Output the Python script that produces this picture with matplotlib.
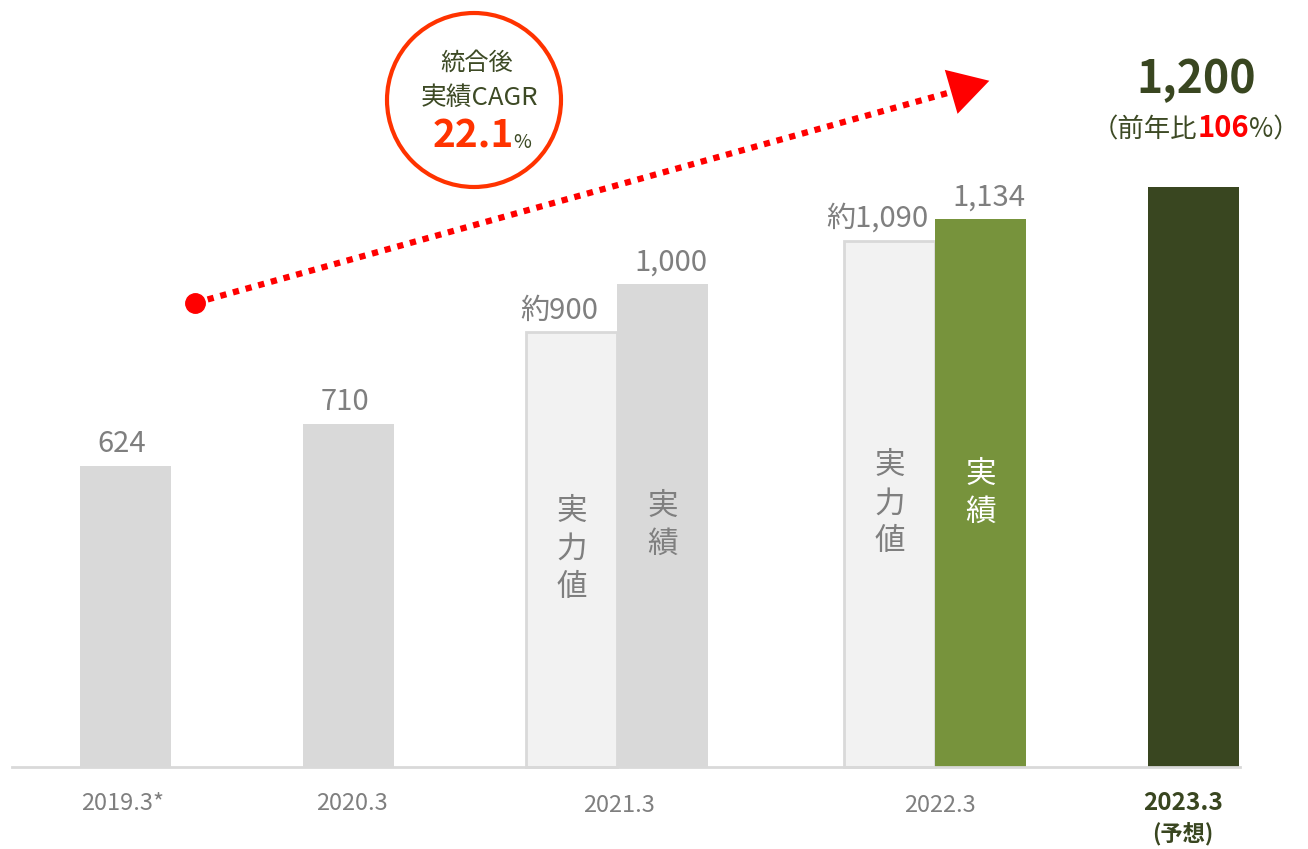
import matplotlib
matplotlib.use('Agg')
import matplotlib.pyplot as plt
from matplotlib.patches import Ellipse

plt.rcParams['font.family'] = ['Noto Sans CJK JP', 'DejaVu Sans']

# === DATA ===
years = ['2019.3*', '2020.3', '2021.3', '2022.3', '2023.3']
actual = [624, 710, 1000, 1134, 1200]          # 実績
underlying = [None, None, 900, 1090, None]      # 実力値
value_labels = ['624', '710', '1,000', '1,134', '1,200']
underlying_labels = [None, None, '約900', '約1,090', None]
cagr_text = '22.1'
yoy_text = '106'

# === STYLE ===
GRAY = '#d9d9d9'
LIGHT = '#f2f2f2'
GREEN = '#77933c'
DARK = '#394620'
TXT = '#7f7f7f'
RED = '#ff0000'
ORANGE = '#ff3300'
OLIVE = '#3d4a25'

PX = 0.483                    # pixels per unit
W, H = 1308, 849
BASE = 767                    # baseline pixel row
centers = [125, 348, 617, 935, 1193]   # group centres (px)
bw = 91

fig = plt.figure(figsize=(W / 100, H / 100), dpi=100)
ax = fig.add_axes([0, 0, 1, 1])
ax.set_xlim(0, W)
ax.set_ylim(-(H - BASE) / PX, BASE / PX)
ax.axis('off')

def yv(py):
    return (BASE - py) / PX

bar_colors = [GRAY, GRAY, GRAY, GREEN, DARK]
for i, (c, v) in enumerate(zip(centers, actual)):
    u = underlying[i]
    if u is not None:
        ax.bar(c - bw / 2, u, width=bw, color=LIGHT, edgecolor=GRAY, linewidth=2, zorder=2)
        ax.text(c - bw / 2 - 12, u + 14, underlying_labels[i], ha='center', va='bottom',
                fontsize=21, color=TXT)
        ax.text(c - bw / 2, u / 2, '実\n力\n値', ha='center', va='center', fontsize=22,
                color=TXT, linespacing=1.3)
        ax.bar(c + bw / 2, v, width=bw, color=bar_colors[i], zorder=2)
        ax.text(c + bw / 2 + 8, v + 14, value_labels[i], ha='center', va='bottom',
                fontsize=21, color=TXT)
        ax.text(c + bw / 2, v / 2, '実\n績', ha='center', va='center', fontsize=22,
                color='white' if bar_colors[i] == GREEN else TXT, linespacing=1.3)
    elif i < len(actual) - 1:
        ax.bar(c, v, width=bw, color=bar_colors[i], zorder=2)
        ax.text(c - 3, v + 14, value_labels[i], ha='center', va='bottom',
                fontsize=21, color=TXT)
    else:
        ax.bar(c, v, width=bw, color=bar_colors[i], zorder=2)

# baseline
ax.plot([12, 1240], [0, 0], color=GRAY, lw=2, zorder=3)

# x labels
xl_pos = [123, 352, 619, 940, 1183]
xl_y = [803, 803, 806, 806, 803]
for i, lab in enumerate(years):
    if i == len(years) - 1:
        ax.text(xl_pos[i], yv(xl_y[i]), lab, ha='center', va='center', fontsize=17.5,
                color=DARK, fontweight='bold')
        ax.text(xl_pos[i], yv(834), '(予想)', ha='center', va='center', fontsize=16,
                color=DARK, fontweight='bold')
    else:
        ax.text(xl_pos[i], yv(xl_y[i]), lab, ha='center', va='center', fontsize=17, color=TXT)

# dotted CAGR arrow
x0, y0 = 195, yv(303)
x1, y1 = 962, yv(89)
ax.plot([x0, x1], [y0, y1], color=RED, lw=4.5, linestyle=(0, (1, 1.1)), zorder=4)
ax.plot([x0], [y0], 'o', color=RED, markersize=14, zorder=5)
ax.annotate('', xy=(992, yv(80)), xytext=(x1 - 20, yv(94.5)),
            arrowprops=dict(arrowstyle='-|>,head_length=1.3,head_width=0.75',
                            color=RED, lw=0, mutation_scale=22), zorder=5)

# CAGR circle
cx, cy, r = 474, 100, 87
ax.add_patch(Ellipse((cx, yv(cy)), 2 * r, 2 * r / PX, facecolor='white',
                     edgecolor=ORANGE, lw=3, zorder=6))
ax.text(cx + 3, yv(63), '統合後', ha='center', va='center', fontsize=17.5, color=OLIVE, zorder=7)
ax.text(cx + 5, yv(98), '実績CAGR', ha='center', va='center', fontsize=18.5, color=OLIVE, zorder=7)

fig.canvas.draw()
renderer = fig.canvas.get_renderer()


def place_row(pieces, xc, py, va='baseline'):
    # pieces: list of (text, kwargs); centre the row on xc
    objs = []
    for s, kw in pieces:
        objs.append(ax.text(0, yv(py), s, ha='left', va=va, zorder=7, **kw))
    widths = [o.get_window_extent(renderer).width for o in objs]
    total = sum(widths)
    x = xc - total / 2
    for o, w in zip(objs, widths):
        o.set_x(x)
        x += w


place_row([(cagr_text, dict(fontsize=28, color=ORANGE, fontweight='bold')),
           ('%', dict(fontsize=14, color=OLIVE))], cx + 8, 148)

# top-right labels
ax.text(1196, yv(80), value_labels[-1], ha='center', va='center', fontsize=32,
        color=DARK, fontweight='bold')
place_row([('（前年比', dict(fontsize=19, color=OLIVE)),
           (yoy_text, dict(fontsize=21, color=RED, fontweight='bold')),
           ('%）', dict(fontsize=19, color=OLIVE))], 1196, 137)

fig.savefig('out.png', dpi=100)
